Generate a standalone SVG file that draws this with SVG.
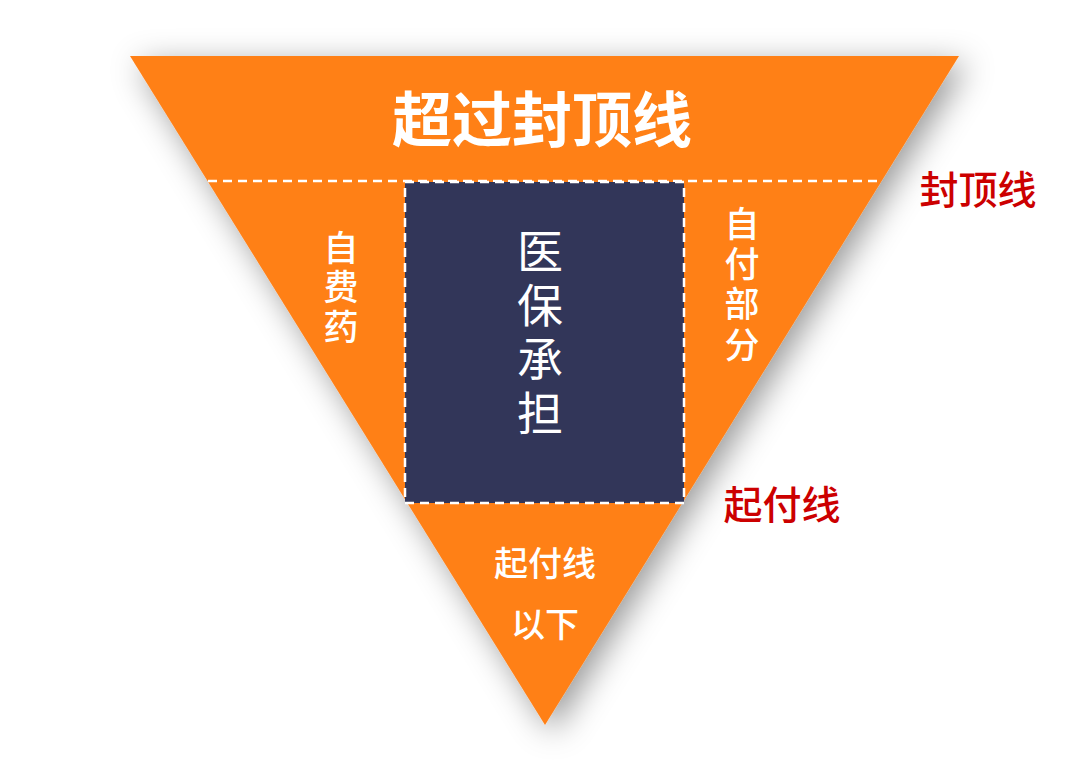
<svg xmlns="http://www.w3.org/2000/svg" width="1080" height="766" viewBox="0 0 1080 766">
<defs>
<filter id="sh" x="-20%" y="-20%" width="140%" height="140%">
<feDropShadow dx="8" dy="8" stdDeviation="16" flood-color="#000" flood-opacity="0.4"/>
</filter>
<style>
text{font-family:"Noto Sans CJK SC","Noto Sans",sans-serif;text-anchor:middle;dominant-baseline:central}
.v{writing-mode:vertical-rl;text-anchor:start}
.w{fill:#fff}
.m{font-weight:500}
.r{fill:#cc0000;font-weight:500}
.dash{stroke:#fff;stroke-width:2.5;stroke-dasharray:9 6;fill:none}
</style>
</defs>
<rect width="1080" height="766" fill="#fff"/>
<g id="triangle">
<polygon points="130,56 959,56 545,725" fill="#ff8019" filter="url(#sh)"/>
</g>
<g id="connectors">
<line class="dash" x1="208" y1="181" x2="881" y2="181"/>
</g>
<g id="top">
<text class="w" x="542" y="115" font-size="60" font-weight="bold">超过封顶线</text>
</g>
<g id="center">
<rect x="405" y="182" width="279" height="321" class="dash" style="fill:#323659"/>
<text class="w v" x="540" y="228" font-size="46" letter-spacing="8">医保承担</text>
</g>
<g id="left">
<text class="w m v" x="341" y="230" font-size="35" letter-spacing="4.5">自费药</text>
</g>
<g id="right">
<text class="w m v" x="742" y="206" font-size="35" letter-spacing="5.3">自付部分</text>
</g>
<g id="bottom">
<text class="w m" x="545" y="561" font-size="34">起付线</text>
<text class="w m" x="545" y="622" font-size="34">以下</text>
</g>
<g id="label-cap">
<text class="r" x="978" y="187" font-size="39">封顶线</text>
</g>
<g id="label-start">
<text class="r" x="782" y="502" font-size="39">起付线</text>
</g>
</svg>
